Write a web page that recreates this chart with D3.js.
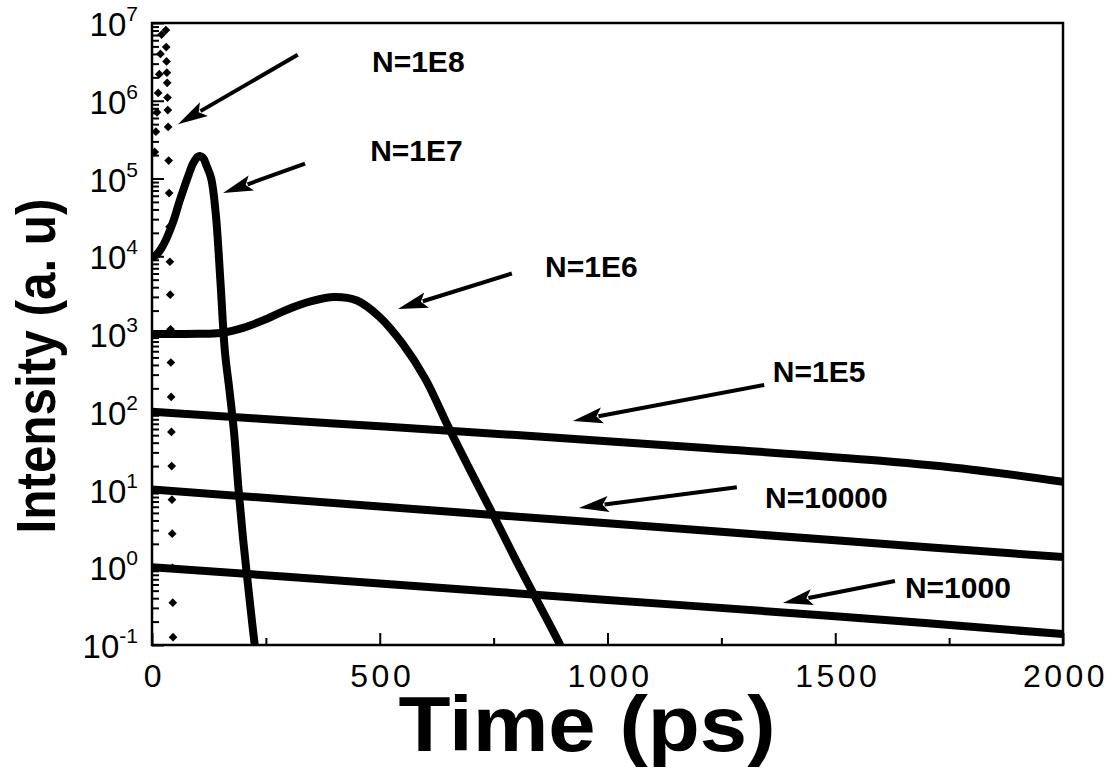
<!DOCTYPE html>
<html>
<head>
<meta charset="utf-8">
<script src="https://cdn.jsdelivr.net/npm/d3@7"></script>
<style>
body { margin: 0; background: #fff; }
text { font-family: "Liberation Sans", Arial, sans-serif; fill: #000; }
</style>
</head>
<body>
<div id="chart"></div>
<script>
// values (time in ps, intensity in a.u.)
var n1e8Time = [6, 8.5, 11, 13.5, 16, 18.5, 21,
  30.5, 31.2, 31.9, 32.6, 33.3, 34.0, 34.7, 35.4, 36.6, 37.6, 38.5, 39.3,
  40.0, 40.7, 41.4, 42.0, 42.6, 43.2, 43.8, 44.4, 45.0, 45.6, 46.2];
var n1e8Value = [2.2e5, 4e5, 7.1e5, 1.26e6, 2.2e6, 4e6, 7.1e6,
  8.1e6, 4.9e6, 3.2e6, 2.3e6, 1.7e6, 1.1e6, 7.6e5, 4.6e5, 1.7e5, 6.5e4, 2.4e4, 8.5e3,
  3.2e3, 1.15e3, 430, 155, 55, 20, 7.4, 2.7, 0.98, 0.35, 0.126];

var n1e7Time = [0, 10, 20, 30, 40, 50, 60, 70, 80, 90, 100, 105, 112, 120, 130, 140, 150, 160, 170, 180, 190, 200, 210, 220, 230];
var n1e7Value = [9.5e3, 1.05e4, 1.25e4, 1.6e4, 2.2e4, 3.2e4, 5e4, 7.5e4, 1.1e5, 1.55e5, 1.9e5, 1.95e5, 1.85e5, 1.45e5, 1.0e5, 3.5e4, 5e3, 600, 190, 55, 10, 2.3, 0.65, 0.19, 0.06];

var n1e6Time = [0, 50, 100, 150, 200, 250, 300, 350, 400, 450, 500, 550, 600, 650, 700, 750, 800, 850, 900, 920];
var n1e6Value = [1000, 1000, 1005, 1030, 1200, 1550, 2100, 2650, 3000, 2700, 1650, 750, 265, 65, 17, 4.6, 1.2, 0.33, 0.09, 0.05];

var n1e5Time = [0, 400, 800, 1200, 1600, 1800, 2000];
var n1e5Value = [100, 70.8, 50.1, 34.7, 23.4, 18, 12.6];

var n1e4Time = [0, 500, 1000, 1500, 2000];
var n1e4Value = [10, 6.05, 3.67, 2.22, 1.35];

var n1e3Time = [0, 500, 1000, 1500, 2000];
var n1e3Value = [1, 0.62, 0.38, 0.235, 0.138];

var xTicks = [0, 500, 1000, 1500, 2000];
var xMinorTicks = [250, 750, 1250, 1750];
var yExponents = [-1, 0, 1, 2, 3, 4, 5, 6, 7];

// annotation labels and arrows, in data units
var labelText = ["N=1E8", "N=1E7", "N=1E6", "N=1E5", "N=10000", "N=1000"];
var labelTime = [483, 479, 863, 1363, 1346, 1653];
var labelValue = [2.34e6, 1.68e5, 5.37e3, 240, 5.78, 0.403];
var tailTime = [320, 336, 790, 1344, 1284, 1631];
var tailValue = [3.9e6, 1.55e5, 6.0e3, 221, 10.7, 0.665];
var tipTime = [57, 156, 540, 924, 937, 1385];
var tipValue = [5.0e5, 6.5e4, 2.1e3, 76, 5.8, 0.347];

var margin = {top: 23, right: 50, bottom: 124, left: 152},
  width = 1113 - margin.left - margin.right,
  height = 769 - margin.top - margin.bottom;

var svg = d3.select("#chart")
  .append("svg")
  .attr("width", width + margin.left + margin.right)
  .attr("height", height + margin.top + margin.bottom);

var g = svg.append("g")
  .attr("transform", "translate(" + margin.left + "," + margin.top + ")");

var x = d3.scaleLinear().domain([0, 2000]).range([0, width]);
var y = d3.scaleLog().domain([0.1, 1e7]).range([height, 0]);

g.append("clipPath").attr("id", "plotClip")
  .append("rect").attr("width", width).attr("height", height);

var plot = g.append("g").attr("clip-path", "url(#plotClip)");

var line = d3.line()
  .x(function(d) { return x(d[0]); })
  .y(function(d) { return y(d[1]); })
  .curve(d3.curveCatmullRom.alpha(0.5));

var series = [
  [n1e7Time, n1e7Value],
  [n1e6Time, n1e6Value],
  [n1e5Time, n1e5Value],
  [n1e4Time, n1e4Value],
  [n1e3Time, n1e3Value]
];

series.forEach(function(s) {
  plot.append("path")
    .datum(d3.zip(s[0], s[1]))
    .attr("fill", "none")
    .attr("stroke", "#000")
    .attr("stroke-width", 8)
    .attr("stroke-linejoin", "round")
    .attr("d", line);
});

// N=1E8 is drawn as markers only
plot.selectAll(".dot")
  .data(d3.zip(n1e8Time, n1e8Value))
  .enter().append("path")
  .attr("class", "dot")
  .attr("d", d3.symbol().type(d3.symbolSquare).size(38))
  .attr("transform", function(d) { return "translate(" + x(d[0]) + "," + y(d[1]) + ") rotate(45)"; })
  .attr("fill", "#000");

// x axis, ticks pointing inward
var xAxis = g.append("g")
  .attr("transform", "translate(0," + height + ")")
  .call(d3.axisBottom(x).tickValues(xTicks).tickFormat(d3.format("d"))
    .tickSizeInner(-12).tickSizeOuter(0).tickPadding(19));
var xMinor = g.append("g")
  .attr("transform", "translate(0," + height + ")")
  .call(d3.axisBottom(x).tickValues(xMinorTicks).tickSizeInner(-7).tickSizeOuter(0).tickFormat(""));
xAxis.selectAll(".domain").remove();
xMinor.selectAll(".domain").remove();
xAxis.selectAll("line").attr("stroke-width", 2);
xMinor.selectAll("line").attr("stroke-width", 2);
xAxis.selectAll("text")
  .attr("font-size", 32)
  .attr("font-family", "Liberation Sans, Arial, sans-serif")
  .attr("letter-spacing", "3.5px")
  .attr("dx", "2px");

// y axis, decades plus minor ticks
var yMajor = yExponents.map(function(e) { return Math.pow(10, e); });
var yMinor = [];
yExponents.slice(0, -1).forEach(function(e) {
  for (var k = 2; k <= 9; k++) yMinor.push(k * Math.pow(10, e));
});

var yAxis = g.append("g")
  .call(d3.axisLeft(y).tickValues(yMajor).tickSizeInner(-12).tickSizeOuter(0).tickFormat(""));
var yAxisMinor = g.append("g")
  .call(d3.axisLeft(y).tickValues(yMinor).tickSizeInner(-7).tickSizeOuter(0).tickFormat(""));
yAxis.selectAll(".domain").remove();
yAxisMinor.selectAll(".domain").remove();
yAxis.selectAll("line").attr("stroke-width", 2);
yAxisMinor.selectAll("line").attr("stroke-width", 2);

var yLabels = g.append("g");
yExponents.forEach(function(e) {
  var t = yLabels.append("text")
    .attr("x", -14)
    .attr("y", y(Math.pow(10, e)) + 13)
    .attr("text-anchor", "end")
    .attr("font-size", 33);
  t.append("tspan").text("10");
  t.append("tspan").attr("font-size", 21).attr("dy", -15).text(e);
});

// frame
g.append("rect")
  .attr("width", width)
  .attr("height", height)
  .attr("fill", "none")
  .attr("stroke", "#000")
  .attr("stroke-width", 2.5);

// annotations
labelText.forEach(function(txt, i) {
  g.append("text")
    .attr("x", x(labelTime[i]))
    .attr("y", y(labelValue[i]))
    .attr("font-size", 30)
    .attr("font-weight", "bold")
    .text(txt);

  var x0 = x(tailTime[i]), y0 = y(tailValue[i]);
  var x1 = x(tipTime[i]), y1 = y(tipValue[i]);
  var dx = x1 - x0, dy = y1 - y0, len = Math.sqrt(dx * dx + dy * dy);
  var ux = dx / len, uy = dy / len;
  var headLen = 30, headW = 8;
  var bx = x1 - ux * headLen, by = y1 - uy * headLen;

  g.append("line")
    .attr("x1", x0).attr("y1", y0)
    .attr("x2", bx + ux * 4).attr("y2", by + uy * 4)
    .attr("stroke", "#000")
    .attr("stroke-width", 4);

  g.append("path")
    .attr("d", "M" + x1 + "," + y1 +
      "L" + (bx - uy * headW) + "," + (by + ux * headW) +
      "L" + (bx + ux * 6) + "," + (by + uy * 6) +
      "L" + (bx + uy * headW) + "," + (by - ux * headW) + "Z")
    .attr("fill", "#000");
});

// axis titles
svg.append("text")
  .attr("x", margin.left + 435)
  .attr("y", 751)
  .attr("text-anchor", "middle")
  .attr("font-size", 78)
  .attr("font-weight", "bold")
  .attr("textLength", 377)
  .attr("lengthAdjust", "spacingAndGlyphs")
  .text("Time (ps)");

svg.append("text")
  .attr("transform", "translate(55,366) rotate(-90)")
  .attr("text-anchor", "middle")
  .attr("font-size", 56)
  .attr("font-weight", "bold")
  .attr("textLength", 335)
  .attr("lengthAdjust", "spacingAndGlyphs")
  .text("Intensity (a. u)");
</script>
</body>
</html>
